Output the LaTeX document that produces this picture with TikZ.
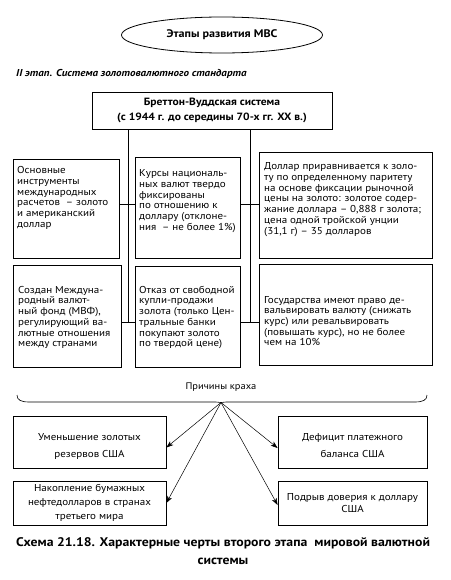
\documentclass[tikz,border=0pt]{standalone}
\usepackage{fontspec}
\setmainfont{PT Sans}[FakeStretch=1.1]
\usetikzlibrary{shapes.geometric,arrows.meta}
\begin{document}
\begin{tikzpicture}[x=1pt,y=-1pt,
  box/.style={draw,line width=0.8pt,rectangle,inner sep=0pt},
  txt/.style={align=left,inner sep=0pt,anchor=west,font=\fontsize{10}{10.7}\selectfont},
  ctxt/.style={align=center,inner sep=0pt,font=\fontsize{10}{14}\selectfont},
  con/.style={line width=0.8pt},
  arr/.style={line width=0.5pt,-{Stealth[length=7pt,width=5pt,inset=2pt]}}]
\useasboundingbox (0,0) rectangle (450,580);

\node[draw,ellipse,line width=0.8pt,minimum width=201pt,minimum height=36pt,inner sep=0pt,
  font=\bfseries\fontsize{11}{12}\selectfont] (title) at (222,35) {Этапы развития МВС};

\node[anchor=west,inner sep=0pt,font=\bfseries\itshape\fontsize{10}{12}\selectfont] (stage) at (16,74)
  {II этап. Система золотовалютного стандарта};

\node[box,minimum width=240pt,minimum height=37pt,align=center,
  font=\bfseries\fontsize{10.5}{15}\selectfont] (top) at (212,110.5)
  {Бреттон-Вуддская система\\(с 1944 г. до середины 70-х гг. XX в.)};

% row 1
\node[box,minimum width=106pt,minimum height=99pt] (r1a) at (66,208.5) {};
\node[box,minimum width=105pt,minimum height=101pt] (r1b) at (187.5,207.5) {};
\node[box,minimum width=173pt,minimum height=106pt] (r1c) at (345.5,205) {};
\node[txt] (t1a) at (17,198) {Основные\\инструменты\\международных\\расчетов~~– золото\\и американский\\доллар};
\node[txt] (t1b) at (139,201) {Курсы националь-\\ных валют твердо\\фиксированы\\по отношению к\\доллару (отклоне-\\ния~~– не более 1\%)};
\node[txt] (t1c) at (264,199.5) {Доллар приравнивается к золо-\\ту по определенному паритету\\на основе фиксации рыночной\\цены на золото: золотое содер-\\жание доллара – 0,888 г золота;\\цена одной тройской унции\\(31,1 г) – 35 долларов};

% row 2
\node[box,minimum width=108pt,minimum height=102pt] (r2a) at (67,316) {};
\node[box,minimum width=105pt,minimum height=101pt] (r2b) at (187.5,316.5) {};
\node[box,minimum width=173pt,minimum height=101pt] (r2c) at (345.5,314.5) {};
\node[txt] (t2a) at (18,317.5) {Создан Междуна-\\родный валют-\\ный фонд (МВФ),\\регулирующий ва-\\лютные отношения\\между странами};
\node[txt] (t2b) at (139,317.5) {Отказ от свободной\\купли-продажи\\золота (только Цен-\\тральные банки\\покупают золото\\по твердой цене)};
\node[txt] (t2c) at (264,321) {Государства имеют право де-\\вальвировать валюту (снижать\\курс) или ревальвировать\\(повышать курс), но не более\\чем на 10\%};

% connectors
\coordinate (ja) at (128,204);
\coordinate (jb) at (250,204);
\coordinate (ka) at (128,322);
\coordinate (kb) at (250,322);
\draw[con] (top.south -| ka) -- (ka);
\draw[con] (top.south -| kb) -- (kb);
\draw[con] (r1a.east |- ja) -- (r1b.west |- ja);
\draw[con] (r1b.east |- jb) -- (r1c.west |- jb);
\draw[con] (r2a.east |- ka) -- (r2b.west |- ka);
\draw[con] (r2b.east |- kb) -- (r2c.west |- kb);

% causes
\node[inner sep=0pt,font=\fontsize{9.5}{12}\selectfont] (causes) at (221,387) {Причины краха};
\coordinate (bl) at (17,395);
\coordinate (br) at (427,395);
\coordinate (tip) at (221,402.5);
\draw[line width=0.6pt] (bl) .. controls (17,400) and (21,402) .. (29,402) -- (216,402)
  -- (tip) -- (226,402) -- (415,402) .. controls (423,402) and (427,400) .. (br);

\node[box,minimum width=153pt,minimum height=52pt] (b1) at (89.5,442) {};
\node[box,minimum width=149pt,minimum height=52pt] (b2) at (352.5,442) {};
\node[box,minimum width=153pt,minimum height=44pt] (b3) at (89.5,503) {};
\node[box,minimum width=149pt,minimum height=44pt] (b4) at (352.5,503) {};
\node[ctxt,font=\fontsize{10}{17}\selectfont] (tb1) at (89.5,446) {Уменьшение золотых\\резервов США};
\node[ctxt,font=\fontsize{10}{17}\selectfont] (tb2) at (352.5,446) {Дефицит платежного\\баланса США};
\node[ctxt,font=\fontsize{10}{13.7}\selectfont] (tb3) at (89.5,503) {Накопление бумажных\\нефтедолларов в странах\\третьего мира};
\node[ctxt,font=\fontsize{10}{12.7}\selectfont] (tb4) at (352.5,503) {Подрыв доверия к доллару\\США};

\draw[arr] (tip) -- (b1.east |- 0,447.5);
\draw[arr] (tip) -- (b2.west |- 0,448);
\draw[arr] (tip) -- (b3.east |- 0,503);
\draw[arr] (tip) -- (b4.west |- 0,505);

\node[align=center,inner sep=0pt,font=\bfseries\fontsize{12.5}{18}\selectfont] (caption) at (223,551)
  {Схема 21.18. Характерные черты второго этапа~ мировой валютной\\системы};
\end{tikzpicture}
\end{document}
